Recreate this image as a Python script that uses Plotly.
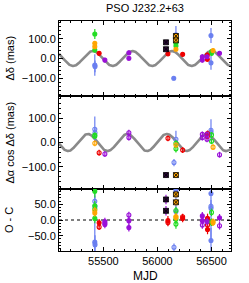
import numpy as np
import plotly.graph_objects as go
from plotly.subplots import make_subplots

# ---------------- data ----------------
title_text = "PSO J232.2+63"
x_range = [55090, 56680]

# parallax model curve parameters
model_period = 365.25
dec_amp, dec_peak = 38, 55403
ra_amp, ra_peak = 35, 55356

# BLUE
blue_dec_t = [55421, 55423, 56171, 56151, 56495, 56495]
blue_dec = [-33, -40, 120, -100, 116, -22]
blue_dec_e = [55, 30, 45, 10, 38, 35]
blue_ra_t = [55421, 55423, 56171, 56153, 56495, 56495]
blue_ra = [54, 40, 13, -82, 50, 42]
blue_ra_e = [52, 20, 35, 15, 45, 15]
blue_ocd_t = [55421, 55423, 56171, 56495, 56495]
blue_ocd = [-70, -78, 95, 84, -65]
blue_ocd_e = [200, 30, 80, 150, 40]
blue_ocr_t = [55421, 55423, 56171, 56153, 56495, 56495]
blue_ocr = [59, 43, 27, -86, 43, 37]
blue_ocr_e = [15, 15, 15, 12, 20, 15]

# GREEN
green_dec_t = [55421, 55421, 56171, 56171, 56500, 56500]
green_dec = [124, 43, 77, 63, 35, 26]
green_dec_e = [25, 12, 12, 12, 10, 10]
green_ra_t = [55421, 55421, 56171, 56171, 56500, 56500]
green_ra = [30, 26, -3, -26, 31, 5]
green_ra_e = [10, 10, 12, 15, 12, 12]
green_ocd_t = [55421, 55421, 55421, 56171, 56500, 56500]
green_ocd = [91, 45, 5, 2, -9, -5]
green_ocd_e = [20, 15, 15, 15, 10, 10]
green_ocr_t = [55421, 56171, 56171, 56500, 56500]
green_ocr = [35, 30, -13, 24, -8]
green_ocr_e = [10, 12, 15, 12, 10]

# ORANGE
orange_dec_t = [55421, 55421, 56171, 56514]
orange_dec = [77, 60, 47, 40]
orange_dec_e = [12, 12, 10, 10]
orange_ra_t = [55421, 56171, 56514]
orange_ra = [-3, -10, -19]
orange_ra_e = [12, 10, 12]
orange_ocd_t = [55421, 56171, 56514]
orange_ocd = [22, 11, -9]
orange_ocd_e = [12, 12, 10]
orange_ocr_t = [55421, 56171, 56514]
orange_ocr = [30, 8, -5]
orange_ocr_e = [12, 10, 10]

# RED
red_dec_t = [55461, 56097, 56233, 56461, 56461]
red_dec = [26, 24, 21, 18, -4]
red_dec_e = [10, 12, 12, 12, 12]
red_ra_t = [55461, 56097, 56233, 56463, 56461]
red_ra = [-42, 17, -31, 37, 25]
red_ra_e = [12, 12, 12, 12, 12]
red_ocd_t = [55461, 56097, 56233, 56463, 56463]
red_ocd = [-9, -2, 5, 5, -30]
red_ocd_e = [12, 15, 12, 15, 15]
red_ocr_t = [55461, 56097, 56233, 56463]
red_ocr = [-22, -8, 10, -16]
red_ocr_e = [10, 12, 10, 12]

# PURPLE
purple_dec_t = [55514, 55736, 55736, 56415, 56415, 56458, 56574]
purple_dec = [-8, 29, 1, 9, -8, 9, 26]
purple_dec_e = [12, 12, 12, 12, 12, 12, 10]
purple_ra_t = [55514, 55736, 55736, 56415, 56415, 56458, 56458, 56574]
purple_ra = [-47, 40, 20, 33, 20, 33, 13, -50]
purple_ra_e = [12, 12, 12, 12, 12, 12, 12, 12]
purple_ocd_t = [55514, 55514, 55736, 55736, 56415, 56415, 56458, 56574]
purple_ocd = [-5, -14, -2, -24, 13, -2, -5, 7]
purple_ocd_e = [12, 12, 12, 12, 12, 12, 12, 12]
purple_ocr_t = [55514, 55736, 56415, 56574]
purple_ocr = [-10, 16, -16, -18]
purple_ocr_e = [10, 10, 12, 12]

# PURPLE/BLACK squares
pblk_dec_t = [56079, 56079]
pblk_dec = [82, 47]
pblk_dec_e = [12, 12]
pblk_ra_t = [56079]
pblk_ra = [-133]
pblk_ra_e = [12]
pblk_oc_t = [56079, 56079]
pblk_oc = [65, 29]
pblk_oc_e = [15, 15]

# ORANGE/BLACK squares
oblk_dec_t = [56171, 56171]
oblk_dec = [114, 92]
oblk_dec_e = [10, 10]
oblk_ra_t = [56171]
oblk_ra = [-133]
oblk_ra_e = [12]
oblk_oc_t = [56171, 56171]
oblk_oc = [81, 56]
oblk_oc_e = [10, 10]

# ---------------- styles ----------------
BLUE = "#6a7ff0"
GREEN = "#22dd22"
ORANGE = "#ffa500"
RED = "#ee0000"
PURPLE = "#9a10d8"
FONT = "Liberation Sans"

fig = make_subplots(rows=3, cols=1, shared_xaxes=True, vertical_spacing=0,
                    row_heights=[75, 93, 62])

# model curves
tt = np.linspace(x_range[0], x_range[1], 600)
dec_model = dec_amp * np.cos(2 * np.pi * (tt - dec_peak) / model_period)
ra_model = ra_amp * np.cos(2 * np.pi * (tt - ra_peak) / model_period)
fig.add_trace(go.Scatter(x=tt, y=dec_model, mode="lines",
                         line=dict(color="#8a8a8a", width=2.6)), row=1, col=1)
fig.add_trace(go.Scatter(x=tt, y=ra_model, mode="lines",
                         line=dict(color="#8a8a8a", width=2.6)), row=2, col=1)
fig.add_trace(go.Scatter(x=x_range, y=[0, 0], mode="lines",
                         line=dict(color="black", width=1, dash="dot")), row=3, col=1)


def pts(t, y, e, color, row, open_=False, size=4):
    sym = "circle-open" if open_ else "circle"
    mk = dict(symbol=sym, size=size, color=color, line=dict(color=color, width=1.1))
    fig.add_trace(go.Scatter(x=t, y=y, mode="markers", marker=mk,
                             error_y=dict(type="data", array=e, color=color,
                                          thickness=1.2, width=0)),
                  row=row, col=1)


for (c, dt, d, de, rt, r, re_, ot, o, oe, qt, q, qe) in [
    (BLUE, blue_dec_t, blue_dec, blue_dec_e, blue_ra_t, blue_ra, blue_ra_e,
     blue_ocd_t, blue_ocd, blue_ocd_e, blue_ocr_t, blue_ocr, blue_ocr_e),
    (GREEN, green_dec_t, green_dec, green_dec_e, green_ra_t, green_ra, green_ra_e,
     green_ocd_t, green_ocd, green_ocd_e, green_ocr_t, green_ocr, green_ocr_e),
    (ORANGE, orange_dec_t, orange_dec, orange_dec_e, orange_ra_t, orange_ra, orange_ra_e,
     orange_ocd_t, orange_ocd, orange_ocd_e, orange_ocr_t, orange_ocr, orange_ocr_e),
    (RED, red_dec_t, red_dec, red_dec_e, red_ra_t, red_ra, red_ra_e,
     red_ocd_t, red_ocd, red_ocd_e, red_ocr_t, red_ocr, red_ocr_e),
    (PURPLE, purple_dec_t, purple_dec, purple_dec_e, purple_ra_t, purple_ra, purple_ra_e,
     purple_ocd_t, purple_ocd, purple_ocd_e, purple_ocr_t, purple_ocr, purple_ocr_e),
]:
    pts(dt, d, de, c, 1)
    pts(rt, r, re_, c, 2, open_=True)
    pts(ot, o, oe, c, 3)
    pts(qt, q, qe, c, 3, open_=True)

# square-x markers
for (t1, y1, e1, t2, y2, e2, t3, y3, e3, col, fill) in [
    (pblk_dec_t, pblk_dec, pblk_dec_e, pblk_ra_t, pblk_ra, pblk_ra_e,
     pblk_oc_t, pblk_oc, pblk_oc_e, PURPLE, "#2a0838"),
    (oblk_dec_t, oblk_dec, oblk_dec_e, oblk_ra_t, oblk_ra, oblk_ra_e,
     oblk_oc_t, oblk_oc, oblk_oc_e, ORANGE, ORANGE),
]:
    for (t, y, e, row) in [(t1, y1, e1, 1), (t2, y2, e2, 2), (t3, y3, e3, 3)]:
        fig.add_trace(go.Scatter(
            x=t, y=y, mode="markers",
            marker=dict(symbol="square-x", size=5, color=fill,
                        line=dict(color="black", width=0.8)),
            error_y=dict(type="data", array=e, color=col, thickness=1.2, width=0)),
            row=row, col=1)

axis_common = dict(showline=True, linecolor="black", linewidth=1, mirror="allticks",
                   ticks="inside", ticklen=4, tickcolor="black", showgrid=False,
                   zeroline=False, automargin=False,
                   tickfont=dict(family=FONT, size=11, color="black"))

for i in (1, 2, 3):
    fig.update_xaxes(range=x_range, dtick=500, tick0=55000, tickformat="d",
                     minor=dict(dtick=100, ticks="inside", ticklen=2, tickcolor="black"),
                     showticklabels=(i == 3), row=i, col=1, **axis_common)

fig.update_yaxes(range=[-190, 190], dtick=100, tickformat=".1f",
                 minor=dict(dtick=20, ticks="inside", ticklen=2, tickcolor="black"),
                 row=1, col=1, **axis_common)
fig.update_yaxes(range=[-190, 190], dtick=100, tickformat=".1f",
                 minor=dict(dtick=20, ticks="inside", ticklen=2, tickcolor="black"),
                 row=2, col=1, **axis_common)
fig.update_yaxes(range=[-98, 98], dtick=50, tickformat=".1f",
                 minor=dict(dtick=10, ticks="inside", ticklen=2, tickcolor="black"),
                 row=3, col=1, **axis_common)

L, R, T, B = 59, 18, 21, 32
W, H = 249, 283
pw = W - L - R
ph = H - T - B
ytitle_x = -(L - 9) / pw

annos = [
    dict(text="Δδ (mas)", x=ytitle_x, y=(1 - 37.5 / ph)),
    dict(text="Δα cos Δδ (mas)", x=ytitle_x, y=(1 - (75 + 46.5) / ph)),
    dict(text="O - C", x=ytitle_x, y=(31 / ph)),
]
for a in annos:
    fig.add_annotation(xref="paper", yref="paper", textangle=-90, showarrow=False,
                       xanchor="center", yanchor="middle",
                       font=dict(family=FONT, size=11, color="black"), **a)
fig.add_annotation(xref="paper", yref="paper", x=0.5, y=-(276 - (H - B)) / ph,
                   text="MJD", showarrow=False, xanchor="center", yanchor="middle",
                   font=dict(family=FONT, size=12, color="black"))
fig.add_annotation(xref="paper", yref="paper", x=0.5, y=1 + (T - 8) / ph,
                   text=title_text, showarrow=False, xanchor="center", yanchor="middle",
                   font=dict(family=FONT, size=11, color="black"))

fig.update_layout(width=W, height=H, margin=dict(l=L, r=R, t=T, b=B),
                  showlegend=False, plot_bgcolor="white", paper_bgcolor="white")

fig.write_html("out.html", config={"displayModeBar": False, "staticPlot": True},
               post_script="document.body.style.margin='0';document.body.style.overflow='hidden';")
